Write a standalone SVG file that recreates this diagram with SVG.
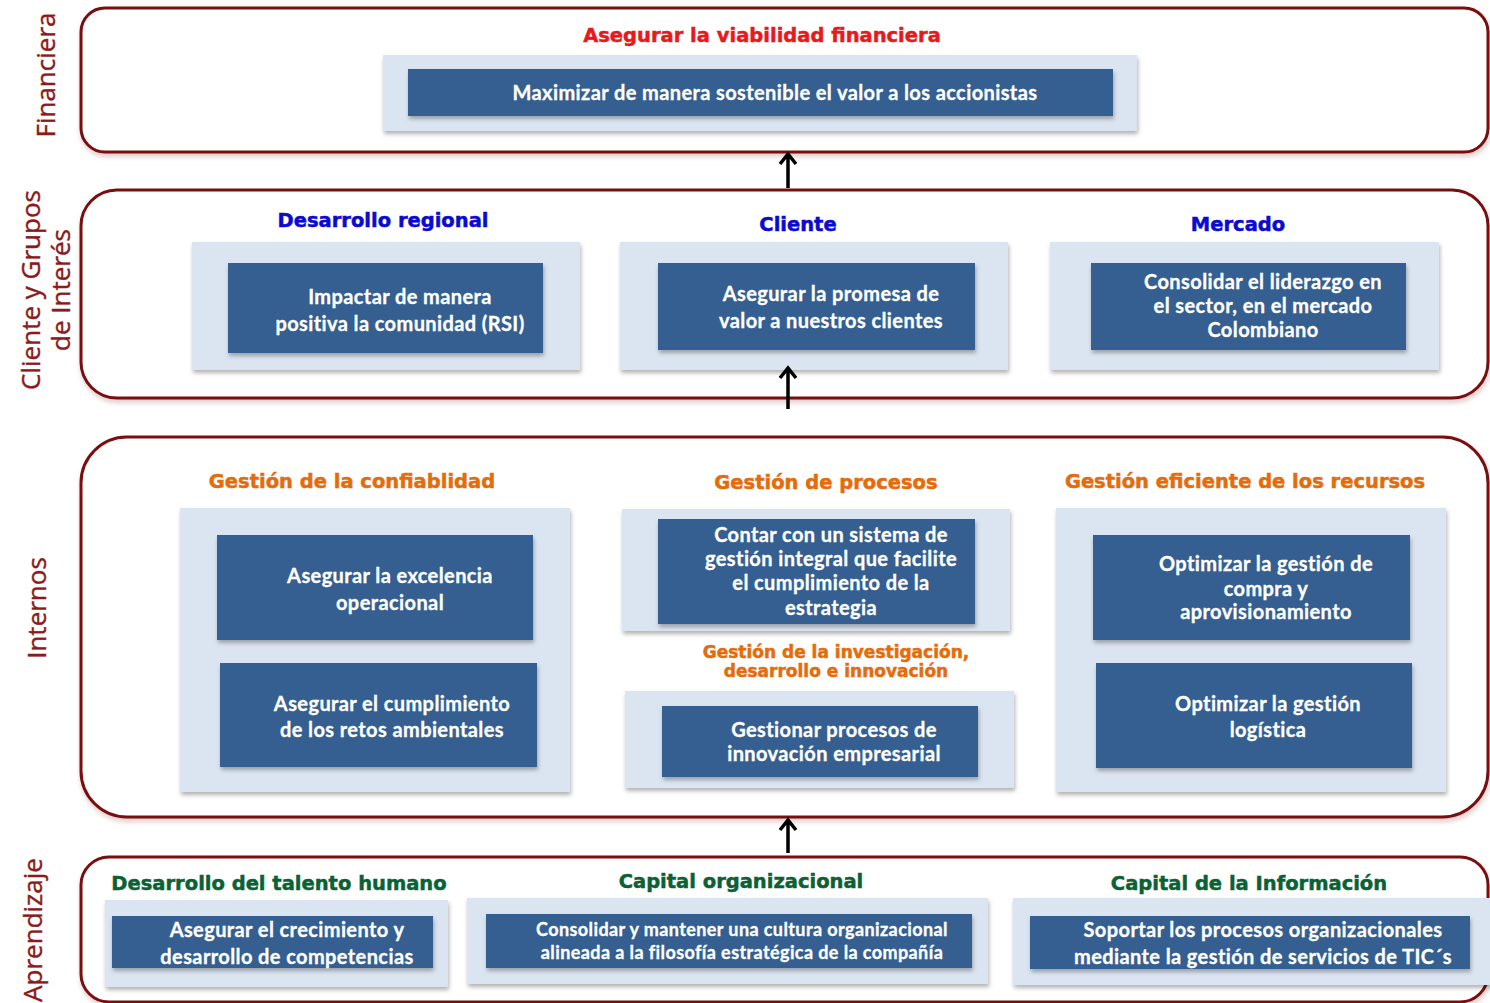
<svg xmlns="http://www.w3.org/2000/svg" width="1490" height="1003" viewBox="0 0 1490 1003">
<style>
.frame{fill:#fff;stroke:#7a1010;stroke-width:3}
.panel{fill:#dbe5f1}
.box{fill:#365f91}
.bt{font-family:Lato,"Open Sans","Liberation Sans",sans-serif;font-weight:bold;fill:#fff;stroke:#fff;stroke-width:0.3;font-size:20px;letter-spacing:0.4px;text-anchor:middle}
.side{font-family:"Open Sans","Liberation Sans",sans-serif;fill:#8b1a1a;stroke:#8b1a1a;stroke-width:0.4;font-size:26px;text-anchor:middle}
.hd{font-family:"DejaVu Sans","Liberation Sans",sans-serif;font-weight:bold;font-size:19.5px;text-anchor:middle;stroke-width:0.5}
.red{fill:#e8191c;stroke:#e8191c}
.blue{fill:#0a0ad0;stroke:#0a0ad0}
.orange{fill:#e46c0a;stroke:#e46c0a}
.green{fill:#0b6133;stroke:#0b6133}
.arr{fill:none;stroke:#000;stroke-width:3.5}
</style>
<defs>
<filter id="sh" x="-5%" y="-10%" width="110%" height="130%">
<feDropShadow dx="1" dy="3" stdDeviation="2" flood-color="#000" flood-opacity="0.3"/>
</filter>
<filter id="fsh" x="-2%" y="-5%" width="104%" height="115%">
<feDropShadow dx="1" dy="3" stdDeviation="2.5" flood-color="#7e1414" flood-opacity="0.25"/>
</filter>
</defs>
<rect width="1490" height="1003" fill="#fff"/>

<g id="frames">
<rect id="frame-financiera" class="frame" filter="url(#fsh)" x="81" y="8" width="1407" height="144" rx="24"/>
<rect id="frame-cliente" class="frame" filter="url(#fsh)" x="81" y="190" width="1407" height="208" rx="36"/>
<rect id="frame-internos" class="frame" filter="url(#fsh)" x="81" y="437" width="1407" height="380" rx="46"/>
<rect id="frame-aprendizaje" class="frame" filter="url(#fsh)" x="81" y="857" width="1407" height="145" rx="28"/>
</g>

<g id="side-labels">
<text class="side" transform="translate(55,75) rotate(-90)">Financiera</text>
<text class="side" transform="translate(40,290) rotate(-90)">Cliente y Grupos</text>
<text class="side" transform="translate(70,290) rotate(-90)">de Interés</text>
<text class="side" transform="translate(46,608) rotate(-90)">Internos</text>
<text class="side" transform="translate(42,930) rotate(-90)">Aprendizaje</text>
</g>

<g id="financiera">
<text class="hd red" x="762" y="42">Asegurar la viabilidad financiera</text>
<rect class="panel" filter="url(#sh)" x="383" y="55" width="754" height="76"/>
<g id="maximizar">
<rect class="box" filter="url(#sh)" x="408" y="69" width="705" height="47"/>
<text class="bt" x="775" y="100">Maximizar de manera sostenible el valor a los accionistas</text>
</g>
</g>

<g id="cliente">
<text class="hd blue" x="383" y="227">Desarrollo regional</text>
<text class="hd blue" x="798" y="231">Cliente</text>
<text class="hd blue" x="1238" y="231">Mercado</text>
<g id="impactar">
<rect class="panel" filter="url(#sh)" x="192" y="242" width="388" height="128"/>
<rect class="box" filter="url(#sh)" x="228" y="263" width="315" height="90"/>
<text class="bt" x="400" y="304">Impactar de manera</text>
<text class="bt" x="400" y="331">positiva la comunidad (RSI)</text>
</g>
<g id="promesa">
<rect class="panel" filter="url(#sh)" x="620" y="242" width="388" height="128"/>
<rect class="box" filter="url(#sh)" x="658" y="263" width="317" height="87"/>
<text class="bt" x="831" y="301">Asegurar la promesa de</text>
<text class="bt" x="831" y="328">valor a nuestros clientes</text>
</g>
<g id="liderazgo">
<rect class="panel" filter="url(#sh)" x="1050" y="242" width="389" height="128"/>
<rect class="box" filter="url(#sh)" x="1091" y="263" width="315" height="87"/>
<text class="bt" x="1263" y="289">Consolidar el liderazgo en</text>
<text class="bt" x="1263" y="313">el sector, en el mercado</text>
<text class="bt" x="1263" y="337">Colombiano</text>
</g>
</g>

<g id="internos">
<text class="hd orange" x="352" y="488">Gestión de la confiablidad</text>
<text class="hd orange" x="826" y="489">Gestión de procesos</text>
<text class="hd orange" x="1245" y="488">Gestión eficiente de los recursos</text>
<rect class="panel" filter="url(#sh)" x="180" y="508" width="390" height="284"/>
<g id="excelencia">
<rect class="box" filter="url(#sh)" x="217" y="535" width="316" height="105"/>
<text class="bt" x="390" y="583">Asegurar la excelencia</text>
<text class="bt" x="390" y="610">operacional</text>
</g>
<g id="ambientales">
<rect class="box" filter="url(#sh)" x="220" y="663" width="317" height="104"/>
<text class="bt" x="392" y="711">Asegurar el cumplimiento</text>
<text class="bt" x="392" y="737">de los retos ambientales</text>
</g>
<g id="sistema">
<rect class="panel" filter="url(#sh)" x="622" y="509" width="388" height="122"/>
<rect class="box" filter="url(#sh)" x="658" y="519" width="317" height="105"/>
<text class="bt" x="831" y="542">Contar con un sistema de</text>
<text class="bt" x="831" y="566">gestión integral que facilite</text>
<text class="bt" x="831" y="590">el cumplimiento de la</text>
<text class="bt" x="831" y="615">estrategia</text>
</g>
<text class="hd orange" style="font-size:17px" x="836" y="658">Gestión de la investigación,</text>
<text class="hd orange" style="font-size:17px" x="836" y="677">desarrollo e innovación</text>
<g id="innovacion">
<rect class="panel" filter="url(#sh)" x="625" y="691" width="389" height="97"/>
<rect class="box" filter="url(#sh)" x="662" y="706" width="316" height="71"/>
<text class="bt" x="834" y="737">Gestionar procesos de</text>
<text class="bt" x="834" y="761">innovación empresarial</text>
</g>
<rect class="panel" filter="url(#sh)" x="1056" y="508" width="390" height="284"/>
<g id="compra">
<rect class="box" filter="url(#sh)" x="1093" y="535" width="317" height="105"/>
<text class="bt" x="1266" y="571">Optimizar la gestión de</text>
<text class="bt" x="1266" y="596">compra y</text>
<text class="bt" x="1266" y="619">aprovisionamiento</text>
</g>
<g id="logistica">
<rect class="box" filter="url(#sh)" x="1096" y="663" width="316" height="105"/>
<text class="bt" x="1268" y="711">Optimizar la gestión</text>
<text class="bt" x="1268" y="737">logística</text>
</g>
</g>

<g id="aprendizaje">
<text class="hd green" x="279" y="890">Desarrollo del talento humano</text>
<text class="hd green" x="741" y="888">Capital organizacional</text>
<text class="hd green" x="1249" y="890">Capital de la Información</text>
<g id="talento">
<rect class="panel" filter="url(#sh)" x="105" y="900" width="343" height="87"/>
<rect class="box" filter="url(#sh)" x="112" y="916" width="321" height="52"/>
<text class="bt" x="287" y="937">Asegurar el crecimiento y</text>
<text class="bt" x="287" y="964">desarrollo de competencias</text>
</g>
<g id="cultura">
<rect class="panel" filter="url(#sh)" x="467" y="898" width="521" height="86"/>
<rect class="box" filter="url(#sh)" x="486" y="914" width="486" height="54"/>
<text class="bt" style="font-size:18px" x="742" y="936">Consolidar y mantener una cultura organizacional</text>
<text class="bt" style="font-size:18px" x="742" y="959">alineada a la filosofía estratégica de la compañía</text>
</g>
<g id="tic">
<rect class="panel" filter="url(#sh)" x="1013" y="898" width="477" height="87"/>
<rect class="box" filter="url(#sh)" x="1030" y="916" width="440" height="53"/>
<text class="bt" x="1263" y="937">Soportar los procesos organizacionales</text>
<text class="bt" x="1263" y="964">mediante la gestión de servicios de TIC´s</text>
</g>
</g>

<g id="connectors">
<path class="arr" d="M788 188 V154 M780 164 L788 154 L796 164"/>
<path class="arr" d="M788 409 V368 M780 378 L788 368 L796 378"/>
<path class="arr" d="M788 853 V820 M780 830 L788 820 L796 830"/>
</g>
</svg>
